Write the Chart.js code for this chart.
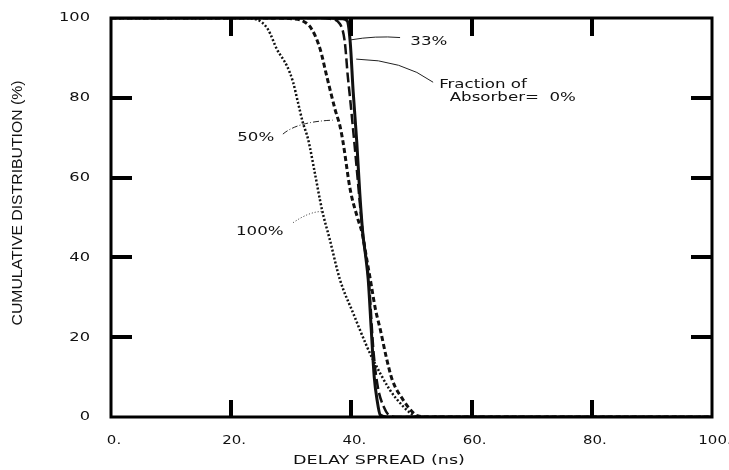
<!DOCTYPE html>
<html>
<head>
<meta charset="utf-8">
<script src="https://cdn.jsdelivr.net/npm/chart.js@4.4.0/dist/chart.umd.min.js"></script>
<style>
  body { margin: 0; background: #fff; }
  #wrap { width: 729px; height: 470px; position: relative; }
</style>
</head>
<body>
<div id="wrap"><canvas id="chart"></canvas></div>
<script>
// Axis ticks and labels
const xTicks = [0, 20, 40, 60, 80, 100];
const xTickLabels = ['0.', '20.', '40.', '60.', '80.', '100.'];
const yTicks = [0, 20, 40, 60, 80, 100];
const yTickLabels = ['0', '20', '40', '60', '80', '100'];
const xTitle = 'DELAY SPREAD (ns)';
const yTitle = 'CUMULATIVE DISTRIBUTION (%)';

// Fraction of absorber = 0% (solid)
const abs0X = [0, 36, 38.5, 39.3, 39.8, 40.3, 40.9, 41.4, 41.9, 42.4, 42.8, 43.3, 43.8, 44.3, 44.8, 46, 100];
const abs0Y = [100, 100, 99.8, 99.3, 94, 81.4, 68.8, 56, 46, 40, 34.4, 22, 10, 4, 0.5, 0, 0];

// 33% (long dash)
const abs33X = [0, 34, 36.4, 38.1, 38.9, 39.4, 39.8, 40.6, 41.9, 42.9, 43.7, 44.4, 45.4, 46.4, 48, 100];
const abs33Y = [100, 100, 99.8, 98.5, 94, 85.4, 79.6, 67, 46, 34, 16, 7.5, 2.5, 0.3, 0, 0];

// 50% (short dash)
const abs50X = [0, 27.5, 30.1, 32, 33.4, 34.8, 35.9, 37.3, 38.1, 38.6, 39.8, 41, 41.8, 42.5, 43.2, 44, 44.8, 45.8, 46.8, 48.6, 50, 51, 53, 100];
const abs50Y = [100, 100, 99.8, 99.2, 97.2, 92.2, 85.4, 77, 72.9, 69, 57, 50, 46, 40, 34, 27, 22, 15, 9.3, 4.3, 1.5, 0.3, 0, 0];

// 100% (dotted)
const abs100X = [0, 22, 24.3, 26.1, 27.6, 29.3, 30.3, 31.1, 31.9, 32.8, 33.9, 35.1, 36.4, 38.1, 40.3, 42.6, 43.4, 46.4, 48.4, 49.8, 51, 100];
const abs100Y = [100, 100, 99.6, 97.2, 92.2, 87.9, 83.9, 78.9, 73.9, 69.6, 61.3, 52, 44.5, 34.4, 26, 17.6, 15, 6.8, 3, 1, 0, 0];

// Curve labels (data units)
const curveNotes = [
    { lines: ['33%'], x: 49.8, y: 94.2 },
    { lines: ['Fraction of', '  Absorber=  0%'], x: 54.6, y: 83.2 },
    { lines: ['50%'], x: 21.0, y: 70.1 },
    { lines: ['100%'], x: 20.8, y: 46.5 }
];
const leaders = [
    { from: [39.8, 94.5], ctrl: [44, 95.6], to: [48.1, 95.1], dash: [] },
    { from: [40.8, 89.7], ctrl: [48.5, 89.5], to: [53.6, 83.9], dash: [] },
    { from: [28.6, 70.9], ctrl: [31, 74], to: [36.9, 74.4], dash: [6, 2, 1, 2] },
    { from: [30.3, 48.7], ctrl: [33, 51.5], to: [35.1, 51.5], dash: [1, 2] }
];

function zip(xs, ys) {
    return xs.map((x, i) => ({ x: x, y: ys[i] }));
}

function drawText(ctx, str, px, py, size, align, sx, family) {
    ctx.save();
    ctx.translate(px, py);
    ctx.scale(sx, 1);
    ctx.font = size + 'px ' + (family || '"DejaVu Sans"');
    ctx.textAlign = align;
    ctx.textBaseline = 'middle';
    ctx.fillText(str, 0, 0);
    ctx.restore();
}

// Frame, inward ticks and all text
const paperFrame = {
    id: 'paperFrame',
    afterDraw(chart) {
        const ctx = chart.ctx;
        const a = chart.chartArea;
        const x = chart.scales.x;
        const y = chart.scales.y;
        ctx.save();
        ctx.setLineDash([]);
        ctx.strokeStyle = '#000';
        ctx.lineWidth = 3;
        ctx.strokeRect(a.left, a.top, a.width, a.height);

        // inward ticks on all four sides
        ctx.fillStyle = '#000';
        for (let i = 1; i < xTicks.length - 1; i++) {
            const px = Math.round(x.getPixelForValue(xTicks[i]));
            ctx.fillRect(px - 2, a.bottom - 17, 4, 17);
            ctx.fillRect(px - 2, a.top, 4, 18);
        }
        for (let i = 1; i < yTicks.length - 1; i++) {
            const py = Math.round(y.getPixelForValue(yTicks[i]));
            ctx.fillRect(a.left, py - 2, 21, 4);
            ctx.fillRect(a.right - 21, py - 2, 21, 4);
        }

        // tick labels
        ctx.fillStyle = '#111';
        xTicks.forEach((v, i) => {
            drawText(ctx, xTickLabels[i], x.getPixelForValue(v) + 3, a.bottom + 24, 13, 'center', 1.15);
        });
        yTicks.forEach((v, i) => {
            drawText(ctx, yTickLabels[i], a.left - 21, y.getPixelForValue(v), 13, 'right', 1.25);
        });

        // axis titles
        drawText(ctx, xTitle, 379, a.bottom + 44, 13, 'center', 1.35);
        ctx.save();
        ctx.translate(18, 203);
        ctx.rotate(-Math.PI / 2);
        ctx.font = '14px "Liberation Sans"';
        const w = ctx.measureText(yTitle).width;
        drawText(ctx, yTitle, 0, 0, 14, 'center', 245 / w, '"Liberation Sans"');
        ctx.restore();

        // leader lines
        ctx.strokeStyle = '#222';
        ctx.lineWidth = 1;
        leaders.forEach(l => {
            ctx.setLineDash(l.dash);
            ctx.beginPath();
            ctx.moveTo(x.getPixelForValue(l.from[0]), y.getPixelForValue(l.from[1]));
            ctx.quadraticCurveTo(x.getPixelForValue(l.ctrl[0]), y.getPixelForValue(l.ctrl[1]),
                x.getPixelForValue(l.to[0]), y.getPixelForValue(l.to[1]));
            ctx.stroke();
        });
        ctx.setLineDash([]);

        // curve labels
        curveNotes.forEach(n => {
            n.lines.forEach((s, i) => {
                drawText(ctx, s, x.getPixelForValue(n.x), y.getPixelForValue(n.y) + i * 13, 13, 'left', 1.28);
            });
        });
        ctx.restore();
    }
};

function series(label, xs, ys, dash, width) {
    return {
        label: label,
        data: zip(xs, ys),
        borderColor: '#111',
        borderWidth: width,
        borderDash: dash,
        pointRadius: 0,
        fill: false,
        cubicInterpolationMode: 'monotone'
    };
}

const ctx = document.getElementById('chart').getContext('2d');
new Chart(ctx, {
    type: 'line',
    data: {
        datasets: [
            series('0%', abs0X, abs0Y, [], 3),
            series('33%', abs33X, abs33Y, [10, 4], 2.5),
            series('50%', abs50X, abs50Y, [5, 3], 3),
            series('100%', abs100X, abs100Y, [2, 2], 2.5)
        ]
    },
    options: {
        responsive: true,
        maintainAspectRatio: false,
        animation: false,
        layout: { padding: { left: 111, right: 17, top: 18, bottom: 53 } },
        plugins: {
            legend: { display: false },
            tooltip: { enabled: false }
        },
        scales: {
            x: { type: 'linear', display: false, min: 0, max: 100 },
            y: { type: 'linear', display: false, min: 0, max: 100 }
        }
    },
    plugins: [paperFrame]
});
</script>
</body>
</html>
